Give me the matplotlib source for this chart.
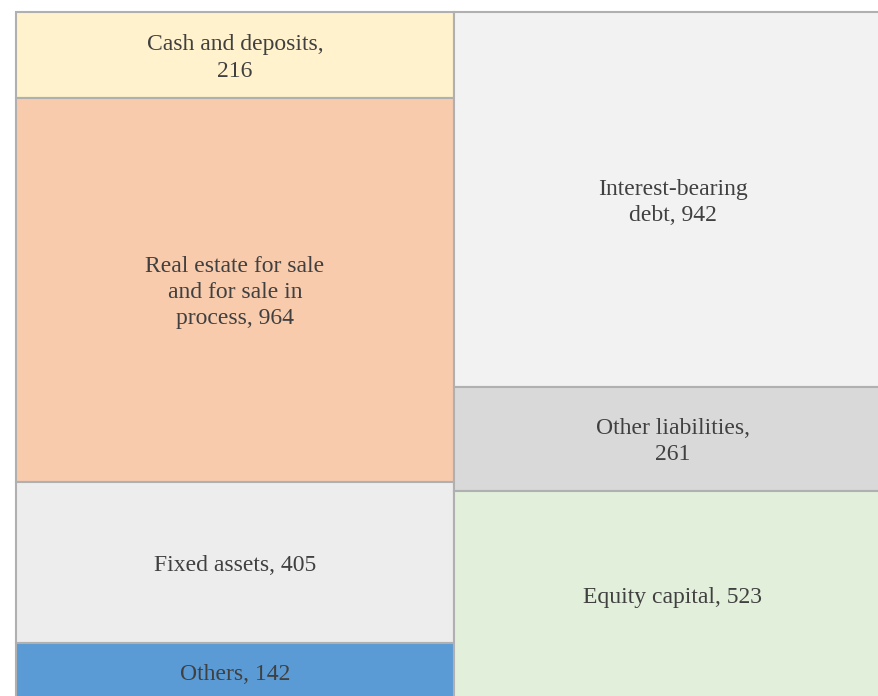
import matplotlib
matplotlib.use("Agg")
import matplotlib.pyplot as plt
from matplotlib.patches import Rectangle

# assets (left column) and liabilities + equity (right column), top to bottom
asset_labels = ["Cash and deposits,\n216",
                "Real estate for sale\nand for sale in\nprocess, 964",
                "Fixed assets, 405",
                "Others, 142"]
asset_values = [216, 964, 405, 142]
asset_colors = ["#FFF2CC", "#F8CBAD", "#EDEDED", "#5B9BD5"]

liab_labels = ["Interest-bearing\ndebt, 942",
               "Other liabilities,\n261",
               "Equity capital, 523"]
liab_values = [942, 261, 523]
liab_colors = ["#F2F2F2", "#D9D9D9", "#E2EFDA"]

W, H, DPI = 879, 696, 100
px_per_unit = 0.398      # vertical scale
col_px = 438             # column width in pixels
x0_px, y0_px = 16, 12    # top-left corner of the block

fig = plt.figure(figsize=(W / DPI, H / DPI), dpi=DPI)
ax = fig.add_axes([0, 0, 1, 1])
ax.set_xlim(-x0_px / col_px, (W - x0_px) / col_px)
ax.set_ylim((H - y0_px) / px_per_unit, -y0_px / px_per_unit)
ax.axis("off")


def draw_column(x, labels, values, colors):
    top = 0
    for lab, v, c in zip(labels, values, colors):
        ax.add_patch(Rectangle((x, top), 1, v, facecolor=c,
                               edgecolor="#B0B0B0", linewidth=1.5))
        # nudge labels a few pixels down, like the original
        ax.text(x + 0.5, top + v / 2 + 3 / px_per_unit, lab,
                ha="center", va="center", ma="center", fontsize=17,
                color="#404040", family="Liberation Serif",
                linespacing=1.32)
        top += v


draw_column(0, asset_labels, asset_values, asset_colors)
draw_column(1, liab_labels, liab_values, liab_colors)

fig.savefig("out.png", dpi=DPI)
